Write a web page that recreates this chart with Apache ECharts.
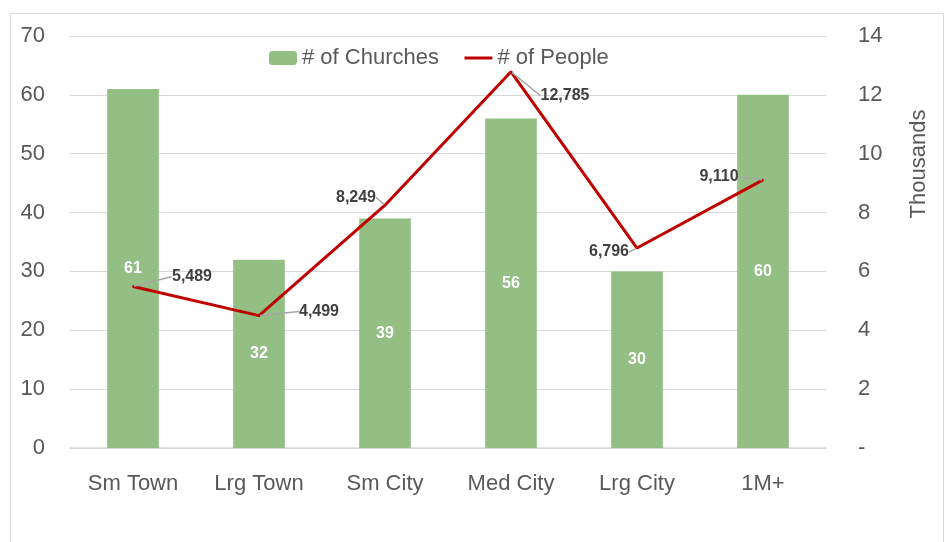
<!DOCTYPE html>
<html>
<head>
<meta charset="utf-8">
<title>Churches and People</title>
<script src="https://cdn.jsdelivr.net/npm/echarts@6/dist/echarts.min.js"></script>
<style>
  html, body { margin: 0; padding: 0; background: #fff; }
  #chart { width: 948px; height: 542px; }
</style>
</head>
<body>
<div id="chart"></div>
<script>
// data
const categories = ['Sm Town', 'Lrg Town', 'Sm City', 'Med City', 'Lrg City', '1M+'];
const churches = [61, 32, 39, 56, 30, 60];
const people = [5489, 4499, 8249, 12785, 6796, 9110];
const leftTicks = [0, 70, 10];       // min, max, interval
const rightTicks = [0, 14000, 2000]; // min, max, interval

// where each people label sits relative to its point
const peopleLabelShift = [[59, -10], [60, -4], [-29, -8], [54, 24], [-28, 4], [-44, -3]];

const font = 'Liberation Sans, Arial, sans-serif';
const grey = '#595959';

let chart = echarts.init(document.getElementById('chart'));

let option = {
  animation: false,
  textStyle: { fontFamily: font },
  graphic: [{
    type: 'rect',
    shape: { x: 10.5, y: 13.5, width: 933, height: 560 },
    style: { fill: 'none', stroke: '#d9d9d9', lineWidth: 1 },
    silent: true
  }],
  legend: {
    left: 264,
    top: 42,
    itemGap: 24,
    itemWidth: 28,
    itemHeight: 14,
    textStyle: { color: grey, fontSize: 22, fontFamily: font },
    data: [
      '# of Churches',
      { name: '# of People', itemStyle: { opacity: 0 }, lineStyle: { width: 3 } }
    ]
  },
  grid: { left: 70, right: 122, top: 36, bottom: 94 },
  xAxis: {
    type: 'category',
    data: categories,
    axisTick: { show: false },
    axisLine: { lineStyle: { color: '#d9d9d9', width: 1.5 } },
    axisLabel: { color: grey, fontSize: 22, margin: 25, fontFamily: font }
  },
  yAxis: [
    {
      type: 'value',
      min: leftTicks[0],
      max: leftTicks[1],
      interval: leftTicks[2],
      axisLine: { show: false },
      axisTick: { show: false },
      axisLabel: { color: grey, fontSize: 22, margin: 25, fontFamily: font },
      splitLine: { lineStyle: { color: '#d9d9d9' } }
    },
    {
      type: 'value',
      min: rightTicks[0],
      max: rightTicks[1],
      interval: rightTicks[2],
      position: 'right',
      axisLine: { show: false },
      axisTick: { show: false },
      splitLine: { show: false },
      axisLabel: {
        color: grey, fontSize: 22, margin: 32, fontFamily: font,
        formatter: v => v === 0 ? '-' : String(v / 1000)
      },
      name: 'Thousands',
      nameLocation: 'middle',
      nameRotate: 90,
      nameGap: 82,
      nameTextStyle: { color: grey, fontSize: 22, fontFamily: font, padding: [0, 0, 0, 156] }
    }
  ],
  series: [
    {
      name: '# of Churches',
      type: 'bar',
      data: churches,
      barWidth: '41%',
      itemStyle: { color: '#93bf85' },
      label: {
        show: true,
        position: 'inside',
        color: '#fff',
        fontWeight: 'bold',
        fontSize: 16,
        fontFamily: font
      }
    },
    {
      name: '# of People',
      type: 'line',
      yAxisIndex: 1,
      data: people,
      symbol: 'circle',
      symbolSize: 2,
      lineStyle: { color: '#c00000', width: 3 },
      itemStyle: { color: '#c00000' },
      label: {
        show: true,
        position: 'inside',
        color: '#404040',
        fontWeight: 'bold',
        fontSize: 16,
        fontFamily: font,
        formatter: p => p.value.toLocaleString('en-US')
      },
      labelLine: { show: true, lineStyle: { color: '#a6a6a6', width: 1.5 } },
      labelLayout: p => ({ dx: peopleLabelShift[p.dataIndex][0], dy: peopleLabelShift[p.dataIndex][1] })
    }
  ]
};

chart.setOption(option);

window.onresize = () => {
  chart.resize();
};
</script>
</body>
</html>
